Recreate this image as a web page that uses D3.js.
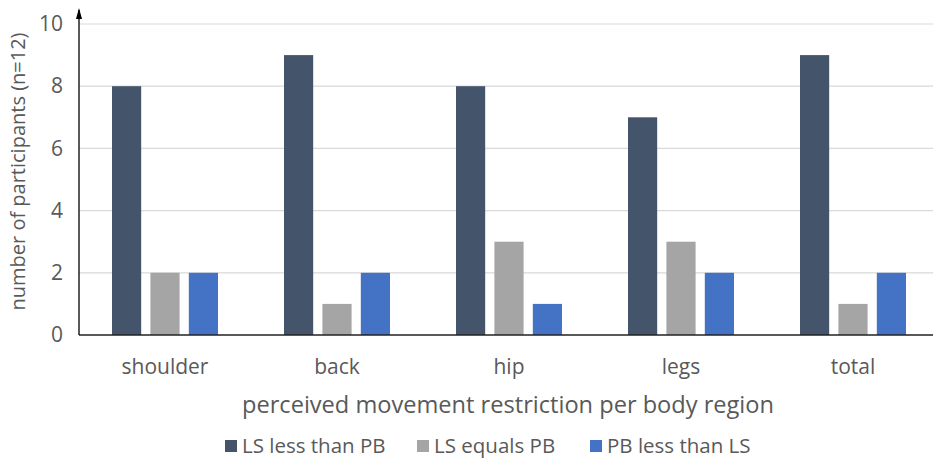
<!DOCTYPE html>
<html>
<head>
<meta charset="utf-8">
<script src="https://cdnjs.cloudflare.com/ajax/libs/d3/7.8.5/d3.min.js"></script>
<style>
  html, body { margin: 0; padding: 0; background: #fff; }
  svg { display: block; font-family: "Open Sans", "Noto Sans", sans-serif; }
</style>
</head>
<body>
<svg id="chart" width="933" height="458"></svg>
<script>
// Body regions along the x axis
const categories = ["shoulder", "back", "hip", "legs", "total"];
// Series names (legend order) and colours
const seriesNames = ["LS less than PB", "LS equals PB", "PB less than LS"];
const seriesColors = ["#44546A", "#A5A5A5", "#4472C4"];
// Number of participants per region for each series
const lsLessThanPB = [8, 9, 8, 7, 9];
const lsEqualsPB = [2, 1, 3, 3, 1];
const pbLessThanLS = [2, 2, 1, 2, 2];
const yTicks = [0, 2, 4, 6, 8, 10];

const seriesValues = [lsLessThanPB, lsEqualsPB, pbLessThanLS];
const rows = categories.map((c, i) => ({
  category: c,
  values: seriesNames.map((s, k) => ({ series: s, color: seriesColors[k], value: seriesValues[k][i] }))
}));

const svg = d3.select("#chart");
const W = 933;
const plotLeft = 79, bandRight = 939, plotTop = 24, plotBottom = 335;

const x = d3.scaleBand().domain(categories).range([plotLeft, bandRight]).paddingInner(0).paddingOuter(0);
const y = d3.scaleLinear().domain([0, 10]).range([plotBottom, plotTop]);
const groupWidth = 106;
const x1 = d3.scaleBand().domain(seriesNames).range([0, groupWidth]).paddingInner(0.24);

// Horizontal gridlines
svg.append("g")
  .selectAll("line")
  .data(yTicks.filter(t => t > 0))
  .join("line")
  .attr("x1", plotLeft).attr("x2", W)
  .attr("y1", d => y(d)).attr("y2", d => y(d))
  .attr("stroke", "#d9d9d9").attr("stroke-width", 1.2);

// Bars
const groups = svg.append("g")
  .selectAll("g")
  .data(rows)
  .join("g")
  .attr("transform", d => `translate(${x(d.category) + x.bandwidth() / 2 - groupWidth / 2},0)`);

groups.selectAll("rect")
  .data(d => d.values)
  .join("rect")
  .attr("x", d => x1(d.series))
  .attr("width", x1.bandwidth())
  .attr("y", d => y(d.value))
  .attr("height", d => y(0) - y(d.value))
  .attr("fill", d => d.color);

// Baseline
svg.append("line")
  .attr("x1", plotLeft).attr("x2", W)
  .attr("y1", y(0)).attr("y2", y(0))
  .attr("stroke", "#222").attr("stroke-width", 1.3);

// Y axis line with arrowhead at the top
svg.append("line")
  .attr("x1", plotLeft).attr("x2", plotLeft)
  .attr("y1", y(0)).attr("y2", 10)
  .attr("stroke", "#000").attr("stroke-width", 1.3);
svg.append("path")
  .attr("d", `M${plotLeft - 3},19 L${plotLeft},8 L${plotLeft + 3},19 Z`)
  .attr("fill", "#000");

// Y tick labels
const yAxis = d3.axisLeft(y).tickValues(yTicks).tickSize(0).tickPadding(16);
const yg = svg.append("g").attr("transform", `translate(${plotLeft},0)`).call(yAxis);
yg.select(".domain").remove();
yg.selectAll("text")
  .attr("fill", "#595959")
  .style("font-size", "21px")
  .style("font-family", "'Open Sans', sans-serif");

// X category labels
const xAxis = d3.axisBottom(x).tickSize(0).tickPadding(24);
const xg = svg.append("g").attr("transform", `translate(0,${plotBottom})`).call(xAxis);
xg.select(".domain").remove();
xg.selectAll("text")
  .attr("fill", "#595959")
  .style("font-size", "21px")
  .style("font-family", "'Open Sans', sans-serif");

// Axis titles
svg.append("text")
  .attr("transform", `translate(25,${(plotTop + plotBottom) / 2 - 8}) rotate(-90)`)
  .attr("text-anchor", "middle")
  .attr("fill", "#595959")
  .style("font-size", "20px")
  .text("number of participants (n=12)");

svg.append("text")
  .attr("x", 508).attr("y", 413)
  .attr("text-anchor", "middle")
  .attr("fill", "#595959")
  .style("font-size", "23.6px")
  .text("perceived movement restriction per body region");

// Legend
const legendX = [225, 417, 590];
const legend = svg.append("g")
  .selectAll("g")
  .data(seriesNames)
  .join("g")
  .attr("transform", (d, i) => `translate(${legendX[i]},446)`);
legend.append("rect")
  .attr("x", 0).attr("y", -6).attr("width", 12).attr("height", 12)
  .attr("fill", (d, i) => seriesColors[i]);
legend.append("text")
  .attr("x", 17).attr("y", 7)
  .attr("fill", "#595959")
  .style("font-size", "20.5px")
  .text(d => d);
</script>
</body>
</html>
